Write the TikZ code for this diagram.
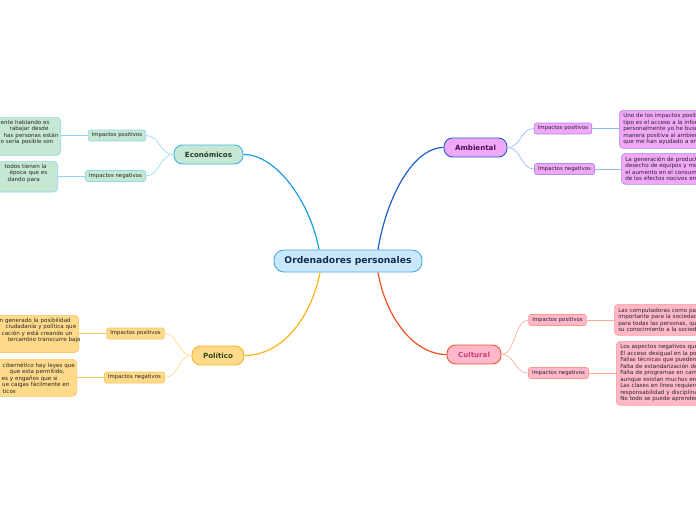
\documentclass[tikz,border=0pt]{standalone}
\usepackage{fontspec}
\setmainfont{DejaVu Sans}
\usetikzlibrary{calc}
\definecolor{cenFill}{HTML}{C9E8FB}\definecolor{cenLine}{HTML}{49A8E0}\definecolor{cenText}{HTML}{1A2B50}
\definecolor{ecoFill}{HTML}{C6E8D2}\definecolor{ecoLine}{HTML}{3FB4E6}\definecolor{ecoMain}{HTML}{1AA0E0}\definecolor{ecoSub}{HTML}{90D8F0}\definecolor{ecoText}{HTML}{1F3A2A}
\definecolor{ambFill}{HTML}{F1A8F8}\definecolor{ambLine}{HTML}{1D5FD0}\definecolor{ambSub}{HTML}{A890EC}\definecolor{ambCurve}{HTML}{90B8F0}\definecolor{ambText}{HTML}{4A1050}
\definecolor{polFill}{HTML}{FFDA8A}\definecolor{polLine}{HTML}{F5B52A}\definecolor{polMain}{HTML}{FFB41A}\definecolor{polSub}{HTML}{F5C860}\definecolor{polCurve}{HTML}{FFD880}\definecolor{polText}{HTML}{2A4A1A}
\definecolor{culFill}{HTML}{FFB8CB}\definecolor{culLine}{HTML}{F05A28}\definecolor{culMain}{HTML}{F25022}\definecolor{culSub}{HTML}{FF9A8A}\definecolor{culCurve}{HTML}{FFA890}\definecolor{culText}{HTML}{C8407A}
\tikzset{
  mainbox/.style={rounded corners=8.5pt, line width=0.9pt, inner sep=0pt, minimum height=19pt, font=\fontsize{7.1}{8}\selectfont\bfseries},
  subbox/.style={rounded corners=2pt, line width=0.6pt, inner xsep=3.5pt, inner ysep=0pt, minimum height=11pt, font=\fontsize{5.4}{6}\selectfont, text=black!85},
  textbox/.style={rounded corners=4pt, line width=0.6pt, inner xsep=4pt, inner ysep=2.5pt, align=left, font=\fontsize{5.6}{6.5}\selectfont, text=black!85},
  maincurve/.style={line width=1.2pt},
  subcurve/.style={line width=0.6pt},
}
\newcommand{\cutline}[2]{\mbox{\hspace*{#1pt}#2}}
\begin{document}
\begin{tikzpicture}[x=1pt,y=-1pt]
\useasboundingbox (0,0) rectangle (696,520);
\clip (0,0) rectangle (696,520);
\fill[white] (0,0) rectangle (696,520);

% central
\node[mainbox, draw=cenLine, fill=cenFill, text=cenText, minimum width=148pt, minimum height=22pt, rounded corners=10pt, font=\fontsize{9.2}{11}\selectfont\bfseries] (central) at (348,261) {Ordenadores personales};

% main branches
\node[mainbox, draw=ecoLine, fill=ecoFill, text=ecoText, minimum width=69pt] (eco) at (208.5,154.5) {Económicos};
\node[mainbox, draw=ambLine, fill=ambFill, text=ambText, minimum width=63pt] (amb) at (475.5,147.5) {Ambiental};
\node[mainbox, draw=polLine, fill=polFill, text=polText, minimum width=52pt] (pol) at (218,355.5) {Político};
\node[mainbox, draw=culLine, fill=culFill, text=culText, minimum width=54pt] (cul) at (474,354.5) {Cultural};

\draw[maincurve, ecoMain] ($(central.north)+(-29,0)$) .. controls (311,205) and (278,154.5) .. (eco.east);
\draw[maincurve, ambLine] ($(central.north)+(30,0)$) .. controls (386,200) and (412,147.5) .. (amb.west);
\draw[maincurve, polMain] ($(central.south)+(-28,0)$) .. controls (311,318) and (282,355.5) .. (pol.east);
\draw[maincurve, culMain] ($(central.south)+(30,0)$) .. controls (386,318) and (414,354.5) .. (cul.west);

% sub labels
\node[subbox, draw=ecoSub, fill=ecoFill] (ecoPos) at (117,135.5) {Impactos positivos};
\node[subbox, draw=ecoSub, fill=ecoFill] (ecoNeg) at (115.5,176) {Impactos negativos};
\node[subbox, draw=ambSub, fill=ambFill] (ambPos) at (563,128.5) {Impactos positivos};
\node[subbox, draw=ambSub, fill=ambFill] (ambNeg) at (564.5,169) {Impactos negativos};
\node[subbox, draw=polSub, fill=polFill] (polPos) at (135.5,333.5) {Impactos positivos};
\node[subbox, draw=polSub, fill=polFill] (polNeg) at (134.5,377.5) {Impactos negativos};
\node[subbox, draw=culSub, fill=culFill] (culPos) at (557.5,320) {Impactos positivos};
\node[subbox, draw=culSub, fill=culFill] (culNeg) at (558.5,373) {Impactos negativos};

\draw[subcurve, ecoSub] (eco.west) .. controls +(-14,0) and +(14,0) .. (ecoPos.east);
\draw[subcurve, ecoSub] (eco.west) .. controls +(-14,0) and +(14,0) .. (ecoNeg.east);
\draw[subcurve, ambCurve] (amb.east) .. controls +(14,0) and +(-14,0) .. (ambPos.west);
\draw[subcurve, ambCurve] (amb.east) .. controls +(14,0) and +(-14,0) .. (ambNeg.west);
\draw[subcurve, polCurve] (pol.west) .. controls +(-14,0) and +(14,0) .. (polPos.east);
\draw[subcurve, polCurve] (pol.west) .. controls +(-14,0) and +(14,0) .. (polNeg.east);
\draw[subcurve, culCurve] (cul.east) .. controls +(14,0) and +(-14,0) .. (culPos.west);
\draw[subcurve, culCurve] (cul.east) .. controls +(14,0) and +(-14,0) .. (culNeg.west);

% text boxes (left, cut by the page edge)
\node[textbox, draw=ecoSub, fill=ecoFill, anchor=north east, text width=100pt, minimum height=38pt] (ecoPosBox) at (61,117)
 {\cutline{44}{ente hablando es}\\\cutline{53}{rabajar desde}\\\cutline{47}{has personas están}\\\cutline{44}{o sería posible son}\\\strut};
\node[textbox, draw=ecoSub, fill=ecoFill, anchor=north east, text width=100pt, minimum height=30pt] (ecoNegBox) at (58,161)
 {\cutline{51}{todos tienen la}\\\cutline{56}{época que es}\\\cutline{54}{dando para}\\\strut};
\node[textbox, draw=polSub, fill=polFill, anchor=north east, text width=100pt, minimum height=37pt] (polPosBox) at (79,315)
 {\cutline{25}{n generado la posibilidad}\\\cutline{31}{ciudadanía y política que}\\\cutline{27}{cación y está creando un}\\\cutline{33}{tercambio transcurre bajo}\\\strut};
\node[textbox, draw=polSub, fill=polFill, anchor=north east, text width=100pt, minimum height=37pt] (polNegBox) at (77,359)
 {\cutline{30}{cibernético hay leyes que}\\\cutline{37}{que esta permitido,}\\\cutline{29}{es y engaños que si}\\\cutline{29.5}{ue caigas fácilmente en}\\\cutline{30}{ticos}};

% text boxes (right, cut by the page edge)
\node[textbox, draw=ambSub, fill=ambFill, anchor=north west, text width=100pt, minimum height=38pt] (ambPosBox) at (619,110)
 {Uno de los impactos positivos\\tipo es el acceso a la información\\personalmente yo he buscado\\manera positiva al ambiente\\que me han ayudado a entender};
\node[textbox, draw=ambSub, fill=ambFill, anchor=north west, text width=100pt, minimum height=31pt] (ambNegBox) at (621,153)
 {La generación de productos\\desecho de equipos y materiales\\el aumento en el consumo\\de los efectos nocivos en};
\node[textbox, draw=culSub, fill=culFill, anchor=north west, text width=100pt, minimum height=31pt] (culPosBox) at (614,304)
 {Las computadoras como parte\\importante para la sociedad\\para todas las personas, que\\su conocimiento a la sociedad};
\node[textbox, draw=culSub, fill=culFill, anchor=north west, text width=100pt, minimum height=64pt] (culNegBox) at (616,341)
 {Los aspectos negativos que\\El acceso desigual en la política\\Fallas técnicas que pueden\\Falta de estandarización de\\Falta de programas en cantidad\\aunque existan muchos en\\Las clases en línea requieren\\responsabilidad y disciplina\\No todo se puede aprender};

\draw[subcurve, ecoSub] (ecoPos.west) -- (ecoPos.west -| ecoPosBox.east);
\draw[subcurve, ecoSub] (ecoNeg.west) -- (ecoNeg.west -| ecoNegBox.east);
\draw[subcurve, polSub] (polPos.west) -- (polPos.west -| polPosBox.east);
\draw[subcurve, polSub] (polNeg.west) -- (polNeg.west -| polNegBox.east);
\draw[subcurve, ambCurve] (ambPos.east) -- (ambPos.east -| ambPosBox.west);
\draw[subcurve, ambCurve] (ambNeg.east) -- (ambNeg.east -| ambNegBox.west);
\draw[subcurve, culCurve] (culPos.east) -- (culPos.east -| culPosBox.west);
\draw[subcurve, culCurve] (culNeg.east) -- (culNeg.east -| culNegBox.west);
\end{tikzpicture}
\end{document}
